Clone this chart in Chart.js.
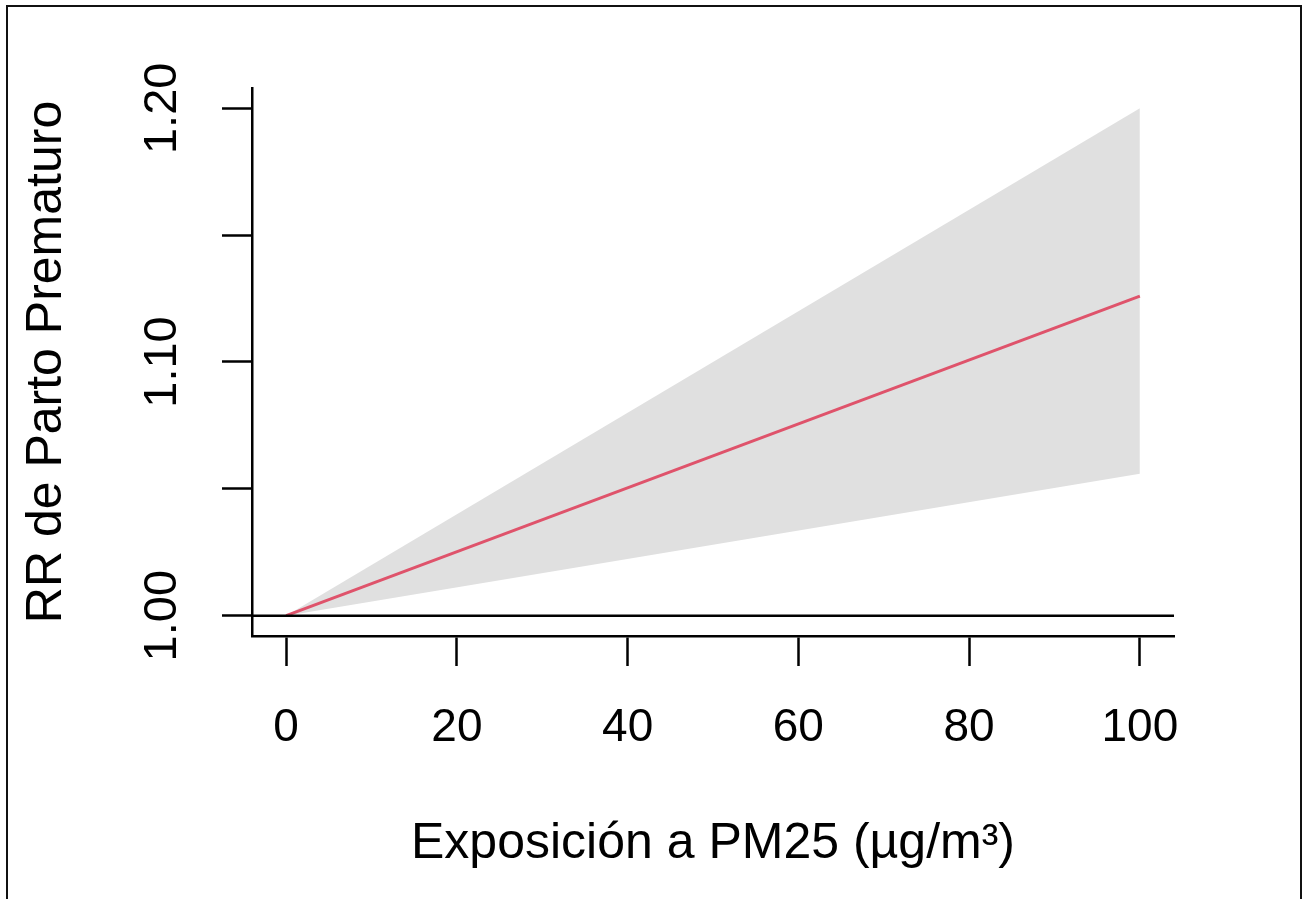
<!DOCTYPE html>
<html><head><meta charset="utf-8">
<script src="https://cdn.jsdelivr.net/npm/chart.js@4/dist/chart.umd.min.js"></script>
<style>
html,body{margin:0;padding:0;background:#fff;overflow:hidden}
#wrap{position:relative;width:1302px;height:899px}
#frame{position:absolute;left:6px;top:5px;width:1292px;height:900px;border:2px solid #111;border-bottom:none;pointer-events:none;box-sizing:content-box}
canvas{display:block}
</style></head><body>
<div id="wrap"><canvas id="c" width="1302" height="899"></canvas><div id="frame"></div></div>
<script>
// ---- data ----
const exposure = [0, 100];
const rrEstimate = [1.000, 1.126];
const rrLower = [1.000, 1.056];
const rrUpper = [1.000, 1.200];
const xTicks = [0, 20, 40, 60, 80, 100];
const yTicks = [1.00, 1.05, 1.10, 1.15, 1.20];
const yTickLabels = ['1.00', '', '1.10', '', '1.20'];
const refValue = 1.0;
const xTitle = 'Exposición a PM25 (µg/m³)';
const yTitle = 'RR de Parto Prematuro';

const FONT = '"Liberation Sans", Arial, Helvetica, sans-serif';
const pts = arr => exposure.map((x, i) => ({x: x, y: arr[i]}));

const refLinePlugin = {
  id: 'refLine',
  afterDatasetsDraw(chart) {
    const {ctx, chartArea, scales} = chart;
    const y = scales.y.getPixelForValue(refValue);
    ctx.save();
    ctx.strokeStyle = '#000';
    ctx.lineWidth = 2.5;
    ctx.beginPath();
    ctx.moveTo(chartArea.left, y);
    ctx.lineTo(chartArea.right, y);
    ctx.stroke();
    ctx.restore();
  }
};

const yLabelPlugin = {
  id: 'yLabels',
  afterDraw(chart) {
    const {ctx, scales} = chart;
    ctx.save();
    ctx.fillStyle = '#000';
    ctx.font = '47px ' + FONT;
    ctx.textAlign = 'center';
    ctx.textBaseline = 'middle';
    yTicks.forEach((v, i) => {
      if (!yTickLabels[i]) return;
      const py = scales.y.getPixelForValue(v);
      ctx.save();
      ctx.translate(163, py);
      ctx.rotate(-Math.PI / 2);
      ctx.fillText(yTickLabels[i], 0, 0);
      ctx.restore();
    });
    ctx.restore();
  }
};

new Chart(document.getElementById('c'), {
  type: 'line',
  data: {
    datasets: [
      {
        label: 'RR',
        data: pts(rrEstimate),
        borderColor: '#DF536B',
        borderWidth: 3,
        pointRadius: 0,
        fill: false,
        tension: 0
      },
      {
        label: 'upper',
        data: pts(rrUpper),
        borderWidth: 0,
        borderColor: 'rgba(0,0,0,0)',
        backgroundColor: '#E0E0E0',
        pointRadius: 0,
        fill: '+1',
        tension: 0
      },
      {
        label: 'lower',
        data: pts(rrLower),
        borderWidth: 0,
        borderColor: 'rgba(0,0,0,0)',
        pointRadius: 0,
        fill: false,
        tension: 0
      }
    ]
  },
  options: {
    responsive: false,
    animation: false,
    devicePixelRatio: 1,
    layout: {padding: {top: 88, right: 128, bottom: 0, left: 0}},
    plugins: {legend: {display: false}, tooltip: {enabled: false}},
    scales: {
      x: {
        type: 'linear',
        min: -4, max: 104,
        afterBuildTicks: s => { s.ticks = xTicks.map(v => ({value: v})); },
        afterFit: s => { s.height = 263; },
        ticks: {
          color: '#000',
          font: {family: FONT, size: 46},
          padding: 35,
          maxRotation: 0, minRotation: 0,
          autoSkip: false,
          callback: v => String(v)
        },
        grid: {display: true, drawOnChartArea: false, drawTicks: true, tickLength: 30, tickWidth: 2.5, tickColor: '#000'},
        border: {display: true, color: '#000', width: 2.5},
        title: {display: true, text: xTitle, color: '#000', font: {family: FONT, size: 50}, padding: {top: 0, bottom: 25}}
      },
      y: {
        type: 'linear',
        min: 0.992, max: 1.208,
        afterBuildTicks: s => { s.ticks = yTicks.map(v => ({value: v})); },
        afterFit: s => { s.width = 252; },
        ticks: {display: false},
        grid: {display: true, drawOnChartArea: false, drawTicks: true, tickLength: 30, tickWidth: 2.5, tickColor: '#000'},
        border: {display: true, color: '#000', width: 2.5},
        title: {display: true, text: yTitle, color: '#000', font: {family: FONT, size: 50}, padding: {top: 17, bottom: 0}}
      }
    }
  },
  plugins: [refLinePlugin, yLabelPlugin]
});
</script>
</body></html>
